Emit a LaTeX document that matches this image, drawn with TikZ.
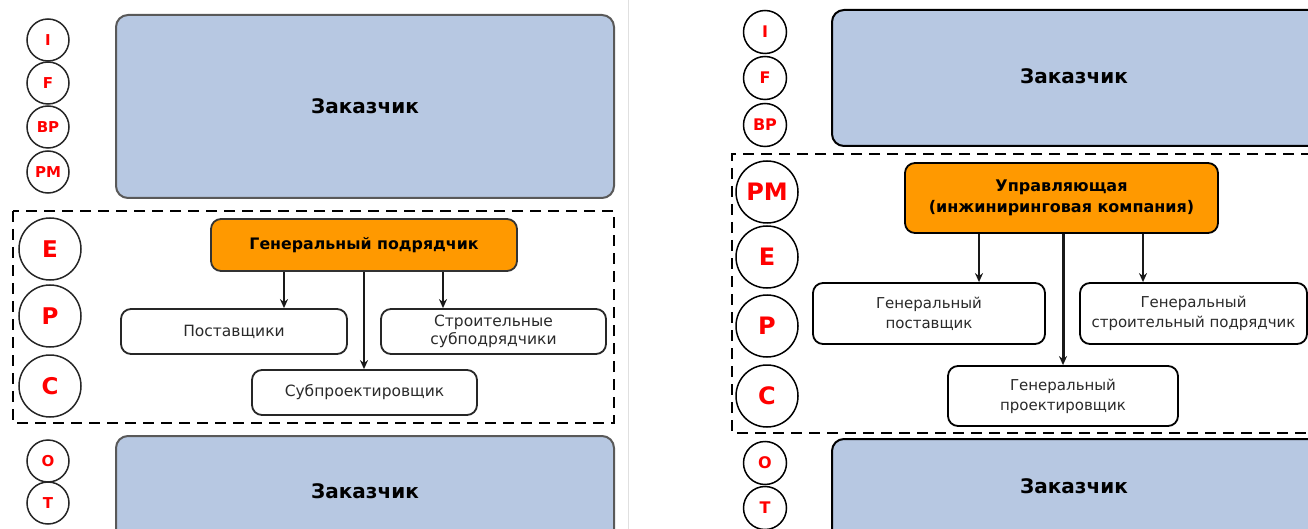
\documentclass[tikz,border=0pt]{standalone}
\usepackage{fontspec}
\setmainfont{DejaVu Sans}
\usetikzlibrary{arrows.meta}
\definecolor{custblue}{HTML}{B7C8E2}
\definecolor{orng}{HTML}{FF9900}
\definecolor{lred}{HTML}{FF0000}
\definecolor{txtgray}{HTML}{2A2A2A}
\tikzset{
  cust/.style={draw=#1, fill=custblue, rounded corners=12pt, line width=2pt, font=\fontsize{20}{24}\selectfont\bfseries},
  gpbox/.style={draw=black!80, fill=orng, rounded corners=10pt, line width=1.8pt, align=center},
  wbox/.style={draw=black!85, fill=white, rounded corners=10pt, line width=1.8pt, align=center, text=txtgray},
  circ/.style={circle, draw=black!85, line width=1.5pt, text=lred, font=\bfseries, inner sep=0pt},
  dashbox/.style={draw=black, line width=2.4pt, dash pattern=on 11pt off 7pt},
  arr/.style={-{Stealth[length=9pt,width=8pt]}, line width=2pt, black!90},
}
\begin{document}
\begin{tikzpicture}[x=1pt,y=-1pt]
\useasboundingbox (0,0) rectangle (1308,529);
\clip (0,0) rectangle (1308,529);
% divider
\draw[black!12, line width=1pt] (628,0) -- (628,529);
% ================= LEFT =================
\node[cust=black!65, minimum width=498pt, minimum height=183pt] (lc1) at (365,106.5) {Заказчик};
\node[cust=black!65, minimum width=498pt, minimum height=110pt] (lc2) at (365,491) {Заказчик};
\draw[dashbox] (13,211) rectangle (614,423);
\node[gpbox, minimum width=306pt, minimum height=52pt, font=\fontsize{15.8}{19}\selectfont\bfseries] (lgp) at (364,245) {Генеральный подрядчик};
\node[wbox, minimum width=226pt, minimum height=45pt, font=\fontsize{15.5}{18}\selectfont] (lsup) at (234,331.5) {Поставщики};
\node[wbox, minimum width=225pt, minimum height=45pt, font=\fontsize{15.5}{18}\selectfont] (lsub) at (493.5,331.5) {Строительные\\субподрядчики};
\node[wbox, minimum width=225pt, minimum height=45pt, font=\fontsize{15.5}{18}\selectfont] (lsp) at (364.5,392.5) {Субпроектировщик};
\coordinate (la1) at (284,0);
\coordinate (la2) at (443,0);
\coordinate (la3) at (364,0);
\draw[arr] (lgp.south -| la1) -- (lsup.north -| la1);
\draw[arr] (lgp.south -| la2) -- (lsub.north -| la2);
\draw[arr, line width=1.6pt] (lgp.south -| la3) -- (lsp.north -| la3);
% circles left
\begin{scope}[every node/.style={circ, minimum size=42pt, font=\fontsize{15}{17}\selectfont\bfseries}]
\node (lI) at (48,40) {I};
\node (lF) at (48,83) {F};
\node (lBP) at (48,127) {BP};
\node (lPM) at (48,172) {PM};
\node (lO) at (48,461) {O};
\node (lT) at (48,503) {T};
\end{scope}
\begin{scope}[every node/.style={circ, minimum size=62pt, font=\fontsize{23}{27}\selectfont\bfseries}]
\node (lE) at (50,249) {E};
\node (lP) at (50,316) {P};
\node (lC) at (50,386) {C};
\end{scope}
% ================= RIGHT =================
\node[cust=black, minimum width=489pt, minimum height=136pt, anchor=west] (rc1) at (831,78) {};
\node[font=\fontsize{20}{24}\selectfont\bfseries] (rc1t) at (1074,76) {Заказчик};
\node[cust=black, minimum width=489pt, minimum height=110pt, anchor=north west] (rc2) at (831,438) {};
\node[font=\fontsize{20}{24}\selectfont\bfseries] (rc2t) at (1074,486) {Заказчик};
\draw[dashbox] (1330,154) -- (732,154) -- (732,433) -- (1330,433);
\node[gpbox, draw=black, minimum width=313pt, minimum height=70pt, font=\fontsize{16}{21}\selectfont\bfseries] (rgp) at (1061.5,198) {Управляющая\\(инжиниринговая компания)};
\node[wbox, draw=black, minimum width=232pt, minimum height=61pt, font=\fontsize{15}{20}\selectfont] (rgs) at (929,313.5) {Генеральный\\поставщик};
\node[wbox, draw=black, minimum width=227pt, minimum height=61pt, font=\fontsize{15}{20}\selectfont] (rgsp) at (1193.5,313.5) {Генеральный\\строительный подрядчик};
\node[wbox, draw=black, minimum width=230pt, minimum height=60pt, font=\fontsize{15}{20}\selectfont] (rgpr) at (1063,396) {Генеральный\\проектировщик};
\coordinate (ra1) at (979,0);
\coordinate (ra2) at (1143,0);
\coordinate (ra3) at (1063,0);
\draw[arr] (rgp.south -| ra1) -- (rgs.north -| ra1);
\draw[arr] (rgp.south -| ra2) -- (rgsp.north -| ra2);
\draw[arr, line width=3pt] (rgp.south -| ra3) -- (rgpr.north -| ra3);
% circles right
\begin{scope}[every node/.style={circ, draw=black, minimum size=43pt, font=\fontsize{16}{18}\selectfont\bfseries}]
\node (rI) at (765,32) {I};
\node (rF) at (765,78) {F};
\node (rBP) at (765,125) {BP};
\node (rO) at (765,463) {O};
\node (rT) at (765,508) {T};
\end{scope}
\begin{scope}[every node/.style={circ, draw=black, minimum size=62pt, font=\fontsize{24}{28}\selectfont\bfseries}]
\node (rPM) at (767,192) {PM};
\node (rE) at (767,257) {E};
\node (rP) at (767,326) {P};
\node (rC) at (767,396) {C};
\end{scope}
\end{tikzpicture}
\end{document}
